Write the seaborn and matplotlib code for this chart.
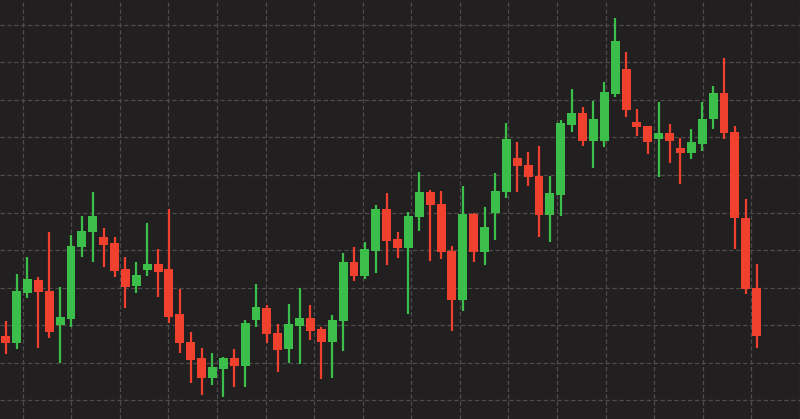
import numpy as np
import pandas as pd
import matplotlib
matplotlib.use("Agg")
import matplotlib.pyplot as plt
import seaborn as sns

# OHLC values (70 sessions)
opens = [108.53, 107.56, 114.31, 116.00, 114.57, 110.00, 110.76, 120.44, 122.36, 121.77,
         120.89, 117.43, 115.20, 117.33, 118.13, 117.43, 111.47, 107.77, 105.64, 102.89,
         104.13, 105.64, 104.57, 110.67, 112.31, 108.97, 106.76, 109.91, 110.89, 109.47,
         107.77, 110.53, 118.44, 116.53, 119.91, 125.47, 121.43, 120.31, 124.44, 127.69,
         126.13, 119.91, 113.33, 124.80, 119.73, 124.97, 127.67, 132.23, 131.33, 129.87,
         124.67, 127.33, 136.67, 138.31, 134.53, 134.53, 140.80, 144.13, 137.11, 136.47,
         134.76, 135.64, 133.64, 132.97, 134.13, 137.43, 140.89, 135.77, 124.23, 114.97]
highs = [110.57, 116.76, 119.11, 116.40, 122.44, 115.03, 122.00, 124.53, 127.77, 122.89,
         121.77, 119.03, 118.44, 123.56, 120.13, 125.43, 114.76, 109.07, 106.89, 106.23,
         105.77, 106.80, 110.67, 115.47, 112.67, 110.13, 112.76, 114.89, 112.67, 109.77,
         111.33, 119.64, 120.44, 121.03, 126.00, 127.64, 122.36, 125.11, 130.36, 128.00,
         127.87, 120.57, 128.53, 124.93, 125.77, 130.20, 136.89, 134.36, 133.11, 133.91,
         129.87, 137.33, 141.43, 139.07, 139.87, 142.44, 150.89, 146.36, 138.80, 136.53,
         139.69, 136.76, 134.89, 136.13, 139.77, 141.87, 145.64, 136.57, 126.80, 118.13]
lows = [106.13, 106.76, 113.56, 106.97, 108.31, 104.97, 109.77, 119.11, 118.44, 117.69,
        116.44, 112.31, 114.31, 116.53, 113.69, 110.31, 106.27, 102.31, 100.67, 102.00,
        100.36, 101.69, 101.77, 109.77, 107.64, 103.77, 104.89, 104.76, 108.00, 102.76,
        102.89, 106.53, 115.87, 116.09, 116.97, 118.00, 118.89, 111.47, 122.57, 118.57,
        118.76, 109.20, 111.91, 118.44, 118.00, 121.40, 126.89, 127.77, 128.53, 121.77,
        121.11, 124.53, 135.77, 133.87, 130.97, 133.77, 140.44, 137.77, 135.24, 132.80,
        129.69, 131.56, 128.80, 132.09, 133.24, 136.13, 134.76, 120.09, 114.13, 106.89]
closes = [107.56, 114.57, 116.09, 114.40, 109.11, 111.03, 120.57, 122.57, 124.53, 120.67,
          117.20, 115.11, 116.67, 118.13, 117.07, 111.11, 107.64, 105.33, 102.89, 104.44,
          105.64, 104.57, 110.23, 112.44, 108.80, 106.67, 110.09, 110.89, 109.24, 107.77,
          110.67, 118.44, 116.53, 120.13, 125.47, 121.20, 120.31, 124.57, 127.77, 126.00,
          119.77, 113.33, 124.80, 119.77, 123.11, 127.87, 134.76, 131.20, 129.69, 124.67,
          127.64, 136.89, 138.31, 134.53, 137.44, 141.03, 147.87, 138.67, 136.36, 134.44,
          135.64, 134.57, 132.97, 134.44, 137.47, 140.97, 135.56, 124.23, 114.76, 108.53]

df = pd.DataFrame({"open": opens, "high": highs, "low": lows, "close": closes})
df["idx"] = np.arange(len(df))
df["up"] = df["close"] >= df["open"]

BG = "#221f20"
GREEN = "#3cbf4a"
RED = "#f0412f"
GRID = "#4e4b4b"

sns.set_theme(style="dark", rc={"axes.facecolor": BG, "figure.facecolor": BG})

fig = plt.figure(figsize=(8.0, 4.19), dpi=100)
ax = fig.add_axes([0, 0, 1, 1])
ax.set_facecolor(BG)

colors = np.where(df["up"], GREEN, RED)

# grid
ax.set_xlim(-0.522, 72.74)
ax.set_ylim(97.467, 153.333)
ax.set_xticks(np.arange(1.557, 73, 4.464))
ax.set_yticks(np.arange(100, 151, 5))
ax.grid(True, color=GRID, linestyle=(0, (3.5, 2)), linewidth=0.9)
ax.set_axisbelow(True)

# wicks
ax.vlines(df["idx"], df["low"], df["high"], colors=colors, linewidth=1.6, zorder=2)
# bodies
body_low = np.minimum(df["open"], df["close"])
body_h = np.abs(df["close"] - df["open"])
ax.bar(df["idx"], body_h, bottom=body_low, width=0.82, color=colors,
       edgecolor="none", linewidth=0, zorder=3)

ax.tick_params(left=False, bottom=False, labelleft=False, labelbottom=False)
for s in ax.spines.values():
    s.set_visible(False)

fig.savefig("out.png", dpi=100, facecolor=BG)
